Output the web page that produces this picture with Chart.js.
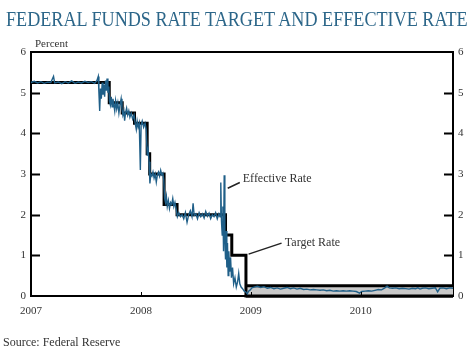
<!DOCTYPE html>
<html>
<head>
<meta charset="utf-8">
<script src="https://cdn.jsdelivr.net/npm/chart.js@4"></script>
<style>
    body { margin: 0; background: #fff; }
    #wrap { position: relative; width: 474px; height: 354px; overflow: hidden; }
    #title {
        position: absolute; left: 6px; top: 7px;
        font-family: "Liberation Serif", serif; font-size: 21px;
        color: #2c6689; white-space: nowrap; transform-origin: 0 0;
    }
    #unit {
        position: absolute; left: 35px; top: 37px;
        font-family: "Liberation Serif", serif; font-size: 11px; color: #333;
    }
    #source {
        position: absolute; left: 3px; top: 335px;
        font-family: "Liberation Serif", serif; font-size: 12px; color: #333;
    }
    #chart { position: absolute; left: 0; top: 0; }
</style>
</head>
<body>
<div id="wrap">
    <canvas id="chart" width="474" height="354"></canvas>
    <div id="title">FEDERAL FUNDS RATE TARGET AND EFFECTIVE RATE</div>
    <div id="unit">Percent</div>
    <div id="source">Source: Federal Reserve</div>
</div>
<script>
// tick labels
const yearTicks = [2007, 2008, 2009, 2010];
const percentTicks = [0, 1, 2, 3, 4, 5, 6];

// target rate (step changes, decimal year)
const targetDates  = [2007.000, 2007.712, 2007.830, 2007.942, 2008.057, 2008.080, 2008.211, 2008.329, 2008.770, 2008.827, 2008.956, 2010.840];
const targetValues = [5.25,     4.75,     4.50,     4.25,     3.50,     3.00,     2.25,     2.00,     1.50,     1.00,     0.00,     0.00];

// target range after Dec 2008
const rangeDates = [2008.956, 2010.840];
const rangeLow   = [0.00, 0.00];
const rangeHigh  = [0.25, 0.25];

// effective rate
const effDates = [
    2007.000, 2007.030, 2007.060, 2007.090, 2007.120, 2007.150, 2007.180, 2007.205, 2007.215, 2007.250,
    2007.280, 2007.310, 2007.340, 2007.370, 2007.400, 2007.430, 2007.460, 2007.490, 2007.520, 2007.550,
    2007.580, 2007.600, 2007.612, 2007.618, 2007.625, 2007.632, 2007.640, 2007.648, 2007.655, 2007.662,
    2007.670, 2007.678, 2007.685, 2007.692, 2007.700, 2007.708, 2007.714, 2007.722, 2007.730, 2007.738,
    2007.746, 2007.754, 2007.762, 2007.770, 2007.780, 2007.790, 2007.800, 2007.810, 2007.820, 2007.828,
    2007.836, 2007.845, 2007.852, 2007.860, 2007.870, 2007.880, 2007.890, 2007.900, 2007.912, 2007.925,
    2007.938, 2007.948, 2007.958, 2007.966, 2007.975, 2007.985, 2007.995, 2008.002, 2008.012, 2008.025,
    2008.038, 2008.048, 2008.058, 2008.066, 2008.074, 2008.082, 2008.090, 2008.100, 2008.110, 2008.120,
    2008.130, 2008.140, 2008.150, 2008.160, 2008.170, 2008.180, 2008.190, 2008.200, 2008.208, 2008.216,
    2008.224, 2008.232, 2008.240, 2008.250, 2008.260, 2008.270, 2008.280, 2008.290, 2008.300, 2008.310,
    2008.320, 2008.332, 2008.345, 2008.360, 2008.375, 2008.390, 2008.405, 2008.420, 2008.435, 2008.450,
    2008.465, 2008.475, 2008.485, 2008.500, 2008.515, 2008.530, 2008.545, 2008.560, 2008.575, 2008.590,
    2008.605, 2008.620, 2008.635, 2008.650, 2008.665, 2008.680, 2008.695, 2008.710, 2008.720, 2008.727,
    2008.733, 2008.740, 2008.746, 2008.752, 2008.758, 2008.764, 2008.770, 2008.776, 2008.782, 2008.788,
    2008.794, 2008.800, 2008.808, 2008.816, 2008.824, 2008.834, 2008.844, 2008.856, 2008.868, 2008.880,
    2008.890, 2008.900, 2008.912, 2008.925, 2008.940, 2008.955, 2008.968, 2008.980, 2008.995, 2009.010,
    2009.030, 2009.060, 2009.090, 2009.120, 2009.150, 2009.180, 2009.210, 2009.240, 2009.270, 2009.300,
    2009.330, 2009.360, 2009.390, 2009.420, 2009.450, 2009.480, 2009.510, 2009.540, 2009.570, 2009.600,
    2009.630, 2009.660, 2009.690, 2009.720, 2009.750, 2009.780, 2009.810, 2009.840, 2009.870, 2009.900,
    2009.930, 2009.960, 2009.990, 2010.010, 2010.040, 2010.070, 2010.100, 2010.130, 2010.160, 2010.190,
    2010.220, 2010.240, 2010.260, 2010.290, 2010.320, 2010.350, 2010.380, 2010.410, 2010.440, 2010.470,
    2010.500, 2010.520, 2010.540, 2010.560, 2010.590, 2010.620, 2010.650, 2010.680, 2010.700, 2010.720,
    2010.750, 2010.780, 2010.810, 2010.840
];
const effValues = [
    5.25, 5.28, 5.24, 5.27, 5.23, 5.26, 5.25, 5.40, 5.24, 5.26,
    5.22, 5.27, 5.24, 5.29, 5.23, 5.26, 5.24, 5.28, 5.25, 5.27,
    5.23, 5.30, 5.40, 5.00, 4.55, 5.10, 4.85, 5.25, 4.95, 5.20,
    4.90, 5.30, 5.05, 5.35, 5.00, 5.15, 4.80, 4.70, 4.90, 4.65,
    4.85, 4.70, 4.55, 4.80, 4.60, 4.75, 4.50, 4.70, 4.85, 4.60,
    4.45, 4.55, 4.31, 4.50, 4.62, 4.45, 4.55, 4.40, 4.50, 4.35,
    4.45, 4.25, 4.10, 4.30, 4.15, 4.25, 3.10, 4.20, 4.30, 4.15,
    4.25, 4.10, 3.45, 3.60, 3.30, 2.77, 3.00, 2.95, 3.05, 2.90,
    3.00, 2.80, 2.98, 3.05, 2.95, 3.09, 2.98, 3.02, 2.85, 2.40,
    2.30, 2.45, 2.20, 2.35, 2.15, 2.30, 2.25, 2.40, 2.20, 2.30,
    2.15, 1.95, 2.05, 1.95, 2.00, 1.90, 2.05, 1.81, 2.00, 2.10,
    1.95, 2.28, 1.98, 2.02, 1.90, 2.05, 1.95, 2.02, 1.92, 2.08,
    1.96, 2.04, 1.90, 2.00, 1.95, 2.05, 1.90, 2.02, 1.95, 2.79,
    1.85, 1.50, 2.20, 1.10, 2.97, 1.40, 0.90, 1.60, 0.70, 1.30,
    0.50, 1.10, 0.60, 0.95, 0.45, 0.70, 0.30, 0.45, 0.22, 0.35,
    0.56, 0.30, 0.22, 0.18, 0.12, 0.10, 0.05, 0.12, 0.15, 0.20,
    0.22, 0.24, 0.21, 0.23, 0.19, 0.21, 0.18, 0.20, 0.17, 0.19,
    0.21, 0.18, 0.20, 0.17, 0.19, 0.16, 0.17, 0.15, 0.16, 0.15,
    0.14, 0.15, 0.13, 0.14, 0.12, 0.13, 0.12, 0.13, 0.12, 0.13,
    0.12, 0.11, 0.07, 0.11, 0.12, 0.13, 0.12, 0.14, 0.16, 0.15,
    0.20, 0.24, 0.20, 0.19, 0.20, 0.18, 0.19, 0.18, 0.17, 0.19,
    0.18, 0.20, 0.17, 0.19, 0.20, 0.18, 0.19, 0.20, 0.10, 0.19,
    0.20, 0.18, 0.20, 0.19
];

const toPoints = (xs, ys) => xs.map((x, i) => ({ x: x, y: ys[i] }));

const serif = '"Liberation Serif", serif';
const labelColor = '#333';

// fit title to the width of the page
const title = document.getElementById('title');
title.style.transform = 'scaleX(' + (462 / title.scrollWidth) + ')';

// box, inward ticks and callouts
const framePlugin = {
    id: 'frame',
    afterDatasetsDraw(chart) {
        const ctx = chart.ctx;
        const a = chart.chartArea;
        const x = chart.scales.x;
        const y = chart.scales.y;
        ctx.save();
        ctx.strokeStyle = '#000';
        ctx.lineWidth = 2;
        ctx.beginPath();
        ctx.moveTo(a.left, a.top);
        ctx.lineTo(a.right, a.top);
        ctx.stroke();

        percentTicks.forEach(v => {
            if (v === 0 || v === 6) return;
            const py = Math.round(y.getPixelForValue(v)) + 0.5;
            ctx.beginPath();
            ctx.moveTo(a.left, py);
            ctx.lineTo(a.left + 9, py);
            ctx.moveTo(a.right - 9, py);
            ctx.lineTo(a.right, py);
            ctx.stroke();
        });
        ctx.lineWidth = 1;
        yearTicks.slice(1).forEach(v => {
            const px = Math.round(x.getPixelForValue(v)) + 0.5;
            ctx.beginPath();
            ctx.moveTo(px, a.bottom);
            ctx.lineTo(px, a.bottom - 4);
            ctx.stroke();
        });

        // callouts
        ctx.strokeStyle = '#222';
        ctx.lineWidth = 1.5;
        ctx.beginPath();
        ctx.moveTo(x.getPixelForValue(2008.79), y.getPixelForValue(2.65));
        ctx.lineTo(x.getPixelForValue(2008.90), y.getPixelForValue(2.79));
        ctx.moveTo(x.getPixelForValue(2008.98), y.getPixelForValue(1.03));
        ctx.lineTo(x.getPixelForValue(2009.28), y.getPixelForValue(1.30));
        ctx.stroke();
        ctx.fillStyle = '#333';
        ctx.font = '12px ' + serif;
        ctx.textBaseline = 'middle';
        ctx.fillText('Effective Rate', x.getPixelForValue(2008.927), y.getPixelForValue(2.89));
        ctx.fillText('Target Rate', x.getPixelForValue(2009.31), y.getPixelForValue(1.30));
        ctx.restore();
    }
};

const yAxis = (pos, width) => ({
    type: 'linear',
    position: pos,
    min: 0,
    max: 6,
    afterFit(s) { s.width = width; },
    afterBuildTicks(s) { s.ticks = percentTicks.map(v => ({ value: v })); },
    grid: { display: false, drawTicks: false },
    border: { display: true, color: '#000', width: 2 },
    ticks: { padding: 5, color: labelColor, font: { family: serif, size: 11 } }
});

new Chart(document.getElementById('chart'), {
    type: 'line',
    data: {
        datasets: [
            {
                label: 'Effective Rate',
                data: toPoints(effDates, effValues),
                borderColor: '#1f5f88',
                borderWidth: 1.4,
                pointRadius: 0,
                fill: false,
                clip: false
            },
            {
                label: 'Target Rate',
                data: toPoints(targetDates, targetValues),
                borderColor: '#000',
                borderWidth: 3,
                stepped: true,
                pointRadius: 0,
                fill: false,
                clip: false
            },
            {
                label: 'Range high',
                data: toPoints(rangeDates, rangeHigh),
                borderColor: '#000',
                borderWidth: 3,
                backgroundColor: '#c9c9c9',
                pointRadius: 0,
                fill: { target: 3 },
                clip: false
            },
            {
                label: 'Range low',
                data: toPoints(rangeDates, rangeLow),
                borderColor: '#000',
                borderWidth: 3,
                pointRadius: 0,
                fill: false,
                clip: false
            }
        ]
    },
    options: {
        responsive: false,
        animation: false,
        layout: { padding: { top: 52, left: 0, right: 0, bottom: 0 } },
        plugins: {
            legend: { display: false },
            tooltip: { enabled: false }
        },
        scales: {
            x: {
                type: 'linear',
                min: 2007,
                max: 2010.84,
                afterFit(s) { s.height = 58; },
                afterBuildTicks(s) { s.ticks = yearTicks.map(v => ({ value: v })); },
                grid: { display: false, drawTicks: false },
                border: { display: true, color: '#000', width: 2 },
                ticks: {
                    padding: 9,
                    maxRotation: 0,
                    color: labelColor,
                    font: { family: serif, size: 11 },
                    callback: v => String(v)
                }
            },
            y: yAxis('left', 31),
            y2: yAxis('right', 21)
        }
    },
    plugins: [framePlugin]
});
</script>
</body>
</html>
